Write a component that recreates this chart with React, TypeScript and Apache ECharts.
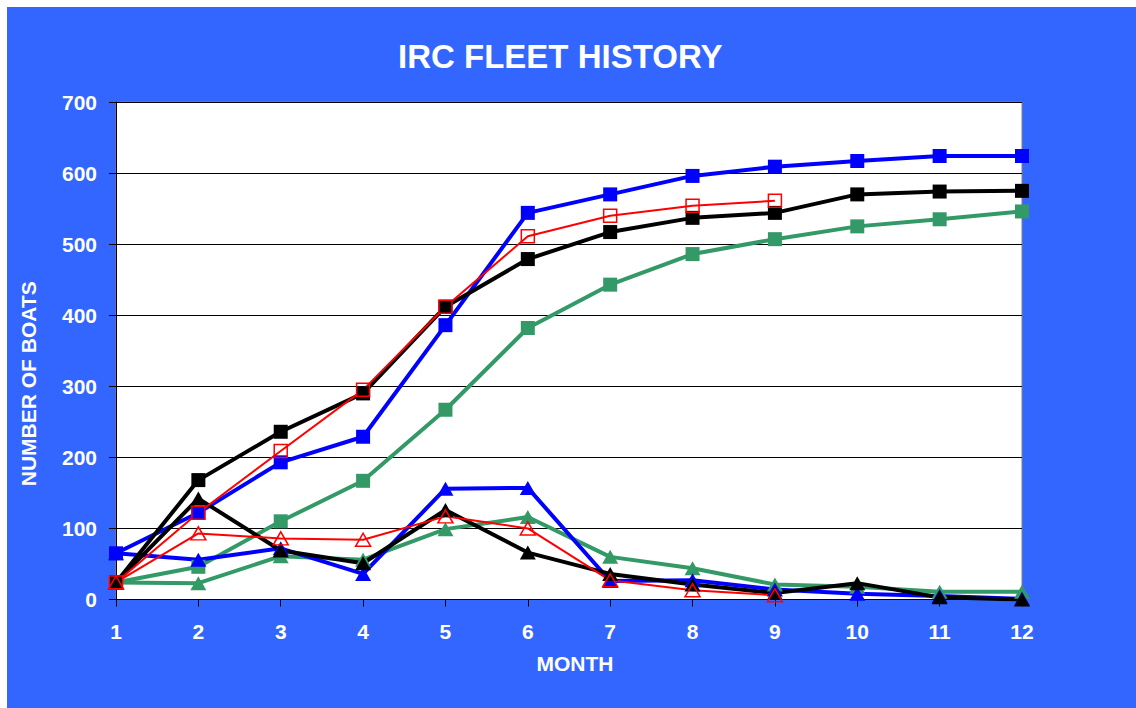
import React, { useEffect, useRef } from "react";
import * as echarts from "echarts";

const months = ["1", "2", "3", "4", "5", "6", "7", "8", "9", "10", "11", "12"];

// Square-marker series (cumulative fleet)
const blueSquares = [65, 122, 193, 229, 386, 544, 570, 596, 609, 617, 624, 624];
const blackSquares = [24, 168, 236, 290, 412, 479, 517, 537, 544, 570, 574, 575];
const redSquares = [24, 122, 209, 295, 412, 511, 540, 554, 561];
const greenSquares = [24, 46, 110, 167, 267, 382, 443, 486, 507, 525, 535, 546];

// Triangle-marker series (monthly)
const blueTriangles = [65, 56, 72, 36, 156, 157, 26, 27, 14, 8, 5, 1];
const blackTriangles = [24, 142, 69, 51, 126, 66, 36, 21, 9, 23, 3, 0];
const redTriangles = [24, 93, 86, 84, 117, 100, 27, 13, 6];
const greenTriangles = [24, 23, 61, 56, 99, 116, 60, 44, 21, 18, 11, 11];

const yTicks = { min: 0, max: 700, step: 100 };

const FONT = "'Liberation Sans', Arial, sans-serif";

function filled(name: string, data: number[], color: string, symbol: string, size: any, width: number) {
  return {
    name,
    type: "line",
    data,
    symbol,
    symbolSize: size,
    lineStyle: { color, width },
    itemStyle: { color, borderWidth: 0 },
    emphasis: { disabled: true },
  };
}

function hollow(name: string, data: number[], color: string, symbol: string, size: any) {
  return {
    name,
    type: "line",
    data,
    symbol,
    symbolSize: size,
    lineStyle: { color, width: 2 },
    itemStyle: { color: "rgba(255,255,255,0)", borderColor: color, borderWidth: 1.5 },
    emphasis: { disabled: true },
  };
}

export default function App() {
  const ref = useRef<HTMLDivElement>(null);
  useEffect(() => {
    if (!ref.current) return;
    const chart = echarts.init(ref.current, null, { renderer: "svg" });
    chart.setOption({
      animation: false,
      backgroundColor: "#3366FF",
      title: {
        text: "IRC FLEET HISTORY",
        left: 386,
        top: 28,
        textStyle: { color: "#fff", fontSize: 33, fontWeight: "bold", fontFamily: FONT },
      },
      grid: {
        left: 109,
        top: 95,
        right: 114,
        bottom: 108.5,
        show: true,
        backgroundColor: "#fff",
        borderColor: "#808080",
        borderWidth: 1,
      },
      xAxis: {
        type: "category",
        data: months,
        boundaryGap: false,
        name: "MONTH",
        nameLocation: "middle",
        nameGap: 53,
        nameTextStyle: { color: "#fff", fontSize: 21, fontWeight: "bold", fontFamily: FONT, padding: [0, 0, 0, 12] },
        axisLine: { lineStyle: { color: "#000", width: 1 } },
        axisTick: { show: true, inside: false, length: 7, lineStyle: { color: "#000" }, alignWithLabel: true },
        axisLabel: { color: "#fff", fontSize: 21, fontWeight: "bold", fontFamily: FONT, margin: 21 },
        splitLine: { show: false },
      },
      yAxis: {
        type: "value",
        min: yTicks.min,
        max: yTicks.max,
        interval: yTicks.step,
        name: "NUMBER OF BOATS",
        nameLocation: "middle",
        nameGap: 77,
        nameTextStyle: { color: "#fff", fontSize: 21, fontWeight: "bold", fontFamily: FONT, padding: [0, 66, 0, 0] },
        axisLine: { show: true, lineStyle: { color: "#000", width: 1 } },
        axisTick: { show: true, inside: false, length: 7, lineStyle: { color: "#000" } },
        axisLabel: { color: "#fff", fontSize: 21, fontWeight: "bold", fontFamily: FONT, margin: 19 },
        splitLine: { show: true, lineStyle: { color: "#000", width: 1 } },
      },
      series: [
        filled("Green squares", greenSquares, "#339966", "rect", 14, 4),
        filled("Green triangles", greenTriangles, "#339966", "triangle", [16, 14], 4),
        filled("Blue squares", blueSquares, "#0000FF", "rect", 14, 4),
        filled("Blue triangles", blueTriangles, "#0000FF", "triangle", [16, 14], 4),
        filled("Black squares", blackSquares, "#000000", "rect", 14, 4),
        filled("Black triangles", blackTriangles, "#000000", "triangle", [16, 14], 4),
        hollow("Red squares", redSquares, "#FF0000", "rect", 13),
        hollow("Red triangles", redTriangles, "#FF0000", "triangle", [15, 13]),
      ],
    });
    return () => chart.dispose();
  }, []);
  return (
    <div
      ref={ref}
      style={{ position: "absolute", left: 7, top: 7, width: 1129, height: 701 }}
    />
  );
}
